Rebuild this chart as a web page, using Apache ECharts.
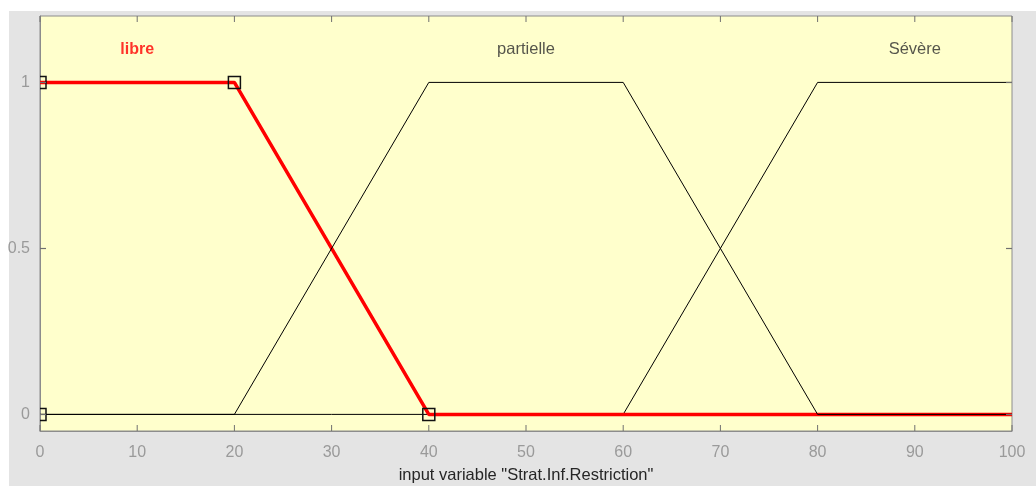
<!DOCTYPE html>
<html>
<head>
<meta charset="utf-8">
<script src="https://cdn.jsdelivr.net/npm/echarts@6/dist/echarts.min.js"></script>
<style>
html,body{margin:0;padding:0;background:#ffffff;}
#c{width:1036px;height:486px;}
</style>
</head>
<body>
<div id="c"></div>
<script>
// Data
var xTicks = [0,10,20,30,40,50,60,70,80,90,100];
var yTicks = [0,0.5,1];
var yRange = [-0.05, 1.2];
var mfNames = ['libre','partielle','Sévère'];
var mfLabelX = [10,50,90];
var mfLabelY = 1.1;
var libreX = [0,20,40,100];
var libreY = [1,1,0,0];
var partielleX = [0,20,40,60,80,100];
var partielleY = [0,0,1,1,0,0];
var severeX = [0,60,80,100];
var severeY = [0,0,1,1];
var markerX = [0,0,20,40];
var markerY = [0,1,1,0];
var xName = 'input variable "Strat.Inf.Restriction"';

function pairs(xs, ys){ return xs.map(function(x,i){return [x, ys[i]];}); }

var chart = echarts.init(document.getElementById('c'), null, {renderer:'canvas'});
var font = 'Liberation Sans, Arial, Helvetica, sans-serif';
var tickColor = '#707070';
var TICK = 6;
// tick length in y data units (plot is ~415 px tall for the 1.25 range)
var tickLenY = (yRange[1] - yRange[0]) * TICK / 415;

// vertical tick segments (bottom and top), separated by gaps
var xTickSegs = [];
xTicks.forEach(function(v){
  xTickSegs.push([v, yRange[0]], [v, yRange[0] + tickLenY], '-');
  xTickSegs.push([v, yRange[1]], [v, yRange[1] - tickLenY], '-');
});

var option = {
  animation: false,
  backgroundColor: '#ffffff',
  graphic: [{
    type: 'rect', z: -10, silent: true,
    shape: {x: 9, y: 11, width: 1027, height: 475},
    style: {fill: '#e4e4e4'}
  }],
  grid: {
    left: 40, top: 16, right: 24, bottom: 55,
    outerBoundsMode: 'none', containLabel: false,
    show: true, backgroundColor: '#ffffcc', borderColor: '#8c8c8c', borderWidth: 1
  },
  xAxis: [{
    type: 'value', min: 0, max: 100, interval: 10, position: 'bottom',
    axisLine: {show: true, onZero: false, lineStyle: {color: '#8c8c8c'}},
    axisTick: {show: false},
    axisLabel: {color: '#9a9a9a', fontSize: 16, fontFamily: font, margin: 14,
      customValues: xTicks},
    splitLine: {show: false},
    name: xName, nameLocation: 'middle', nameGap: 36,
    nameTextStyle: {color: '#262626', fontSize: 16.5, fontFamily: font}
  }],
  yAxis: [{
    type: 'value', min: yRange[0], max: yRange[1], position: 'left',
    axisLine: {show: true, onZero: false, lineStyle: {color: '#8c8c8c'}},
    axisTick: {show: false},
    axisLabel: {color: '#9a9a9a', fontSize: 16, fontFamily: font, margin: 10, customValues: yTicks},
    splitLine: {show: false}
  }],
  series: [
    {
      // vertical tick marks on bottom and top edges
      type: 'line', silent: true, z: 7, symbol: 'none', connectNulls: false,
      data: xTickSegs,
      lineStyle: {color: tickColor, width: 1}
    },
    {
      // horizontal tick marks on left and right edges
      type: 'custom', clip: false, z: 7, silent: true,
      data: yTicks.map(function(v){return [0, v];}),
      renderItem: function(params, api){
        var v = api.value(1);
        var l = api.coord([0, v]), r = api.coord([100, v]);
        var y = Math.round(l[1]) + 0.5;
        var st = {stroke: tickColor, lineWidth: 1.2, fill: null};
        return {type: 'group', children: [
          {type: 'polyline', shape: {points: [[l[0], y], [l[0]+TICK, y]]}, style: st},
          {type: 'polyline', shape: {points: [[r[0], y], [r[0]-TICK, y]]}, style: st}
        ]};
      }
    },
    {
      name: mfNames[2], type: 'line', data: pairs(severeX, severeY),
      symbol: 'none', lineStyle: {color: '#000000', width: 1}, z: 2
    },
    {
      name: mfNames[0], type: 'line', data: pairs(libreX, libreY),
      symbol: 'none', lineStyle: {color: '#ff0000', width: 3.5}, z: 3
    },
    {
      name: mfNames[1], type: 'line', data: pairs(partielleX, partielleY),
      symbol: 'none', lineStyle: {color: '#000000', width: 1}, z: 4
    },
    {
      type: 'custom', clip: true, z: 5,
      data: pairs(markerX, markerY),
      renderItem: function(params, api){
        var p = api.coord([api.value(0), api.value(1)]);
        var s = 12;
        return {
          type: 'rect',
          shape: {x: p[0]-s/2, y: p[1]-s/2, width: s, height: s},
          style: {fill: 'none', stroke: '#111111', lineWidth: 1.5}
        };
      }
    },
    {
      type: 'scatter', symbolSize: 0, z: 6,
      data: mfLabelX.map(function(x,i){return {value: [x, mfLabelY], name: mfNames[i]};}),
      label: {
        show: true, position: 'inside',
        formatter: function(p){return p.name;},
        fontSize: 16.5, fontFamily: font,
        color: '#2a2a2a'
      }
    }
  ]
};
// first label red bold
option.series[6].data[0].label = {color: '#ff0000', fontWeight: 'bold', fontSize: 16};
chart.setOption(option);
</script>
</body>
</html>
